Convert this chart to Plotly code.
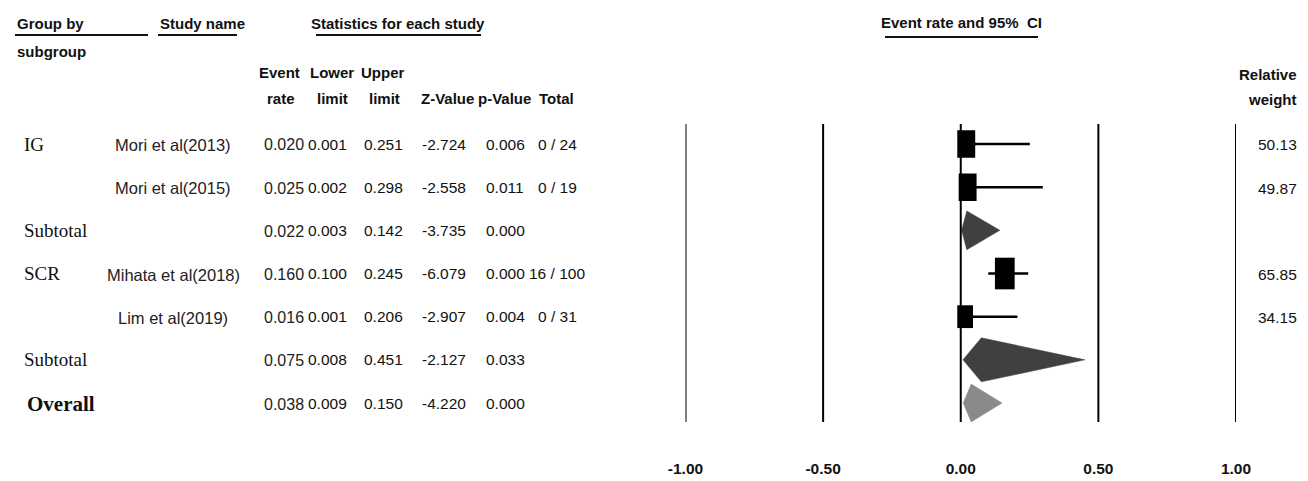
import plotly.graph_objects as go

# ---- data ----
group_labels = ["IG", "", "Subtotal", "SCR", "", "Subtotal", "Overall"]
study_names = ["Mori et al(2013)", "Mori et al(2015)", "", "Mihata et al(2018)", "Lim et al(2019)", "", ""]
event_rate = [0.020, 0.025, 0.022, 0.160, 0.016, 0.075, 0.038]
lower_limit = [0.001, 0.002, 0.003, 0.100, 0.001, 0.008, 0.009]
upper_limit = [0.251, 0.298, 0.142, 0.245, 0.206, 0.451, 0.150]
z_value = [-2.724, -2.558, -3.735, -6.079, -2.907, -2.127, -4.220]
p_value = [0.006, 0.011, 0.000, 0.000, 0.004, 0.033, 0.000]
totals = ["0 / 24", "0 / 19", "", "16 / 100", "0 / 31", "", ""]
rel_weight = [50.13, 49.87, None, 65.85, 34.15, None, None]
row_kind = ["study", "study", "subtotal", "study", "study", "subtotal", "overall"]
axis_ticks = [-1.0, -0.5, 0.0, 0.5, 1.0]

W, H = 1308, 481
NARROW = "Liberation Sans Narrow, Arial Narrow, Liberation Sans, Arial, sans-serif"
SANS = "Liberation Sans, Arial, sans-serif"
SERIF = "Liberation Serif, Times New Roman, serif"
NS = 15.5   # compact statistics font
HS = 15     # header font

ROW0, ROWH = 144.0, 43.17          # pixel centre of first row, row pitch
PLOT_TOP, PLOT_BOT = 110.0, 457.0   # pixel extent of forest y-axis


def px(x):
    return x / W


def py(y):
    return 1 - y / H


def row_of_pixel(y):
    return (y - ROW0) / ROWH


fig = go.Figure()

# reference lines at each tick value
shapes = []
for t in axis_ticks:
    shapes.append(dict(type="line", xref="x", yref="y", x0=t, x1=t,
                       y0=row_of_pixel(124), y1=row_of_pixel(422),
                       line=dict(color="black", width=2)))

# confidence interval whiskers for the individual studies
for i, k in enumerate(row_kind):
    if k == "study":
        fig.add_trace(go.Scatter(x=[lower_limit[i], upper_limit[i]], y=[i, i], mode="lines",
                                 line=dict(color="black", width=2.5), hoverinfo="skip",
                                 showlegend=False))

# weight-scaled boxes
for i, k in enumerate(row_kind):
    if k == "study":
        h = 3.9 * rel_weight[i] ** 0.5
        w = 0.45 * h + 5.5
        shapes.append(dict(type="rect", xref="x", yref="y",
                           xsizemode="pixel", ysizemode="pixel",
                           xanchor=event_rate[i], yanchor=i,
                           x0=-w / 2, x1=w / 2, y0=-h / 2, y1=h / 2,
                           fillcolor="black", line=dict(width=0)))

# summary diamonds
diamond_half = {2: 0.45, 5: 0.51, 6: 0.44}
diamond_color = {"subtotal": "#404040", "overall": "#8a8a8a"}
for i, k in enumerate(row_kind):
    if k in diamond_color:
        hh = diamond_half[i]
        fig.add_trace(go.Scatter(
            x=[lower_limit[i], event_rate[i], upper_limit[i], event_rate[i], lower_limit[i]],
            y=[i, i - hh, i, i + hh, i],
            mode="lines", fill="toself", fillcolor=diamond_color[k],
            line=dict(color=diamond_color[k], width=0.5), hoverinfo="skip", showlegend=False))

ann = []


def text(x, y, s, size=NS, family=NARROW, anchor="center", bold=False, color="#111"):
    ann.append(dict(x=px(x), y=py(y), xref="paper", yref="paper", text=s,
                    showarrow=False, xanchor=anchor, yanchor="middle",
                    font=dict(size=size, family=family, color=color,
                              weight="bold" if bold else "normal")))


def underline(x0, x1, y):
    shapes.append(dict(type="line", xref="paper", yref="paper",
                       x0=px(x0), x1=px(x1), y0=py(y), y1=py(y),
                       line=dict(color="#111", width=2)))


# column headers
text(15, 23, "Group by", size=HS, anchor="left", bold=True)
text(15, 51, "subgroup", size=HS, anchor="left", bold=True)
underline(15, 148, 35)
text(158, 23, "Study name", size=HS, anchor="left", bold=True)
underline(158, 237, 35)
text(398, 23, "Statistics for each study", size=HS, bold=True)
underline(316, 481, 35)
text(961, 22, "Event rate and 95%  CI", size=HS, bold=True)
underline(885, 1038, 37)

col_x = {"rate": 284, "lo": 328, "hi": 383.5, "z": 444, "p": 505, "tot": 557}
text(279, 73, "Event", size=HS, bold=True)
text(281, 98, "rate", size=HS, bold=True)
text(332, 73, "Lower", size=HS, bold=True)
text(332, 98, "limit", size=HS, bold=True)
text(383, 73, "Upper", size=HS, bold=True)
text(384, 98, "limit", size=HS, bold=True)
text(447, 98, "Z-Value", size=HS, bold=True)
text(504, 98, "p-Value", size=HS, bold=True)
text(556, 98, "Total", size=HS, bold=True)
text(1299, 74, "Relative", size=HS, anchor="right", bold=True)
text(1299, 99, "weight", size=HS, anchor="right", bold=True)

# table body
for i in range(len(row_kind)):
    y = ROW0 + ROWH * i
    if group_labels[i]:
        if row_kind[i] == "overall":
            text(25, y + 1, group_labels[i], size=21, family=SERIF, anchor="left", bold=True)
        else:
            text(22, y, group_labels[i], size=19, family=SERIF, anchor="left")
    if study_names[i]:
        text(173, y + 1, study_names[i], size=16.5, family=SANS, color="#222")
    text(col_x["rate"], y + 1, f"{event_rate[i]:.3f}", size=16, family=SANS, color="#222")
    text(col_x["lo"], y, f"{lower_limit[i]:.3f}")
    text(col_x["hi"], y, f"{upper_limit[i]:.3f}")
    text(col_x["z"], y, f"{z_value[i]:.3f}")
    text(col_x["p"], y, f"{p_value[i]:.3f}")
    if totals[i]:
        text(col_x["tot"], y, totals[i])
    if rel_weight[i] is not None:
        text(1299, y + 1, f"{rel_weight[i]:.2f}", anchor="right")

fig.update_layout(
    template="none", autosize=False,
    width=W, height=H, margin=dict(l=0, r=0, t=0, b=0, pad=0, autoexpand=False),
    paper_bgcolor="white", plot_bgcolor="white",
    xaxis=dict(domain=[685.5 / W, 1236 / W], range=[-1, 1], automargin=False,
               tickvals=axis_ticks, ticktext=[f"{t:.2f}" for t in axis_ticks],
               showgrid=False, zeroline=False, showline=False, ticks="",
               tickfont=dict(size=15.5, family=NARROW, color="#111", weight="bold"),
               fixedrange=True),
    yaxis=dict(domain=[py(PLOT_BOT), py(PLOT_TOP)], automargin=False,
               range=[row_of_pixel(PLOT_BOT), row_of_pixel(PLOT_TOP)],
               visible=False, fixedrange=True),
    shapes=shapes, annotations=ann, showlegend=False,
)

fig.write_html("out.html")
